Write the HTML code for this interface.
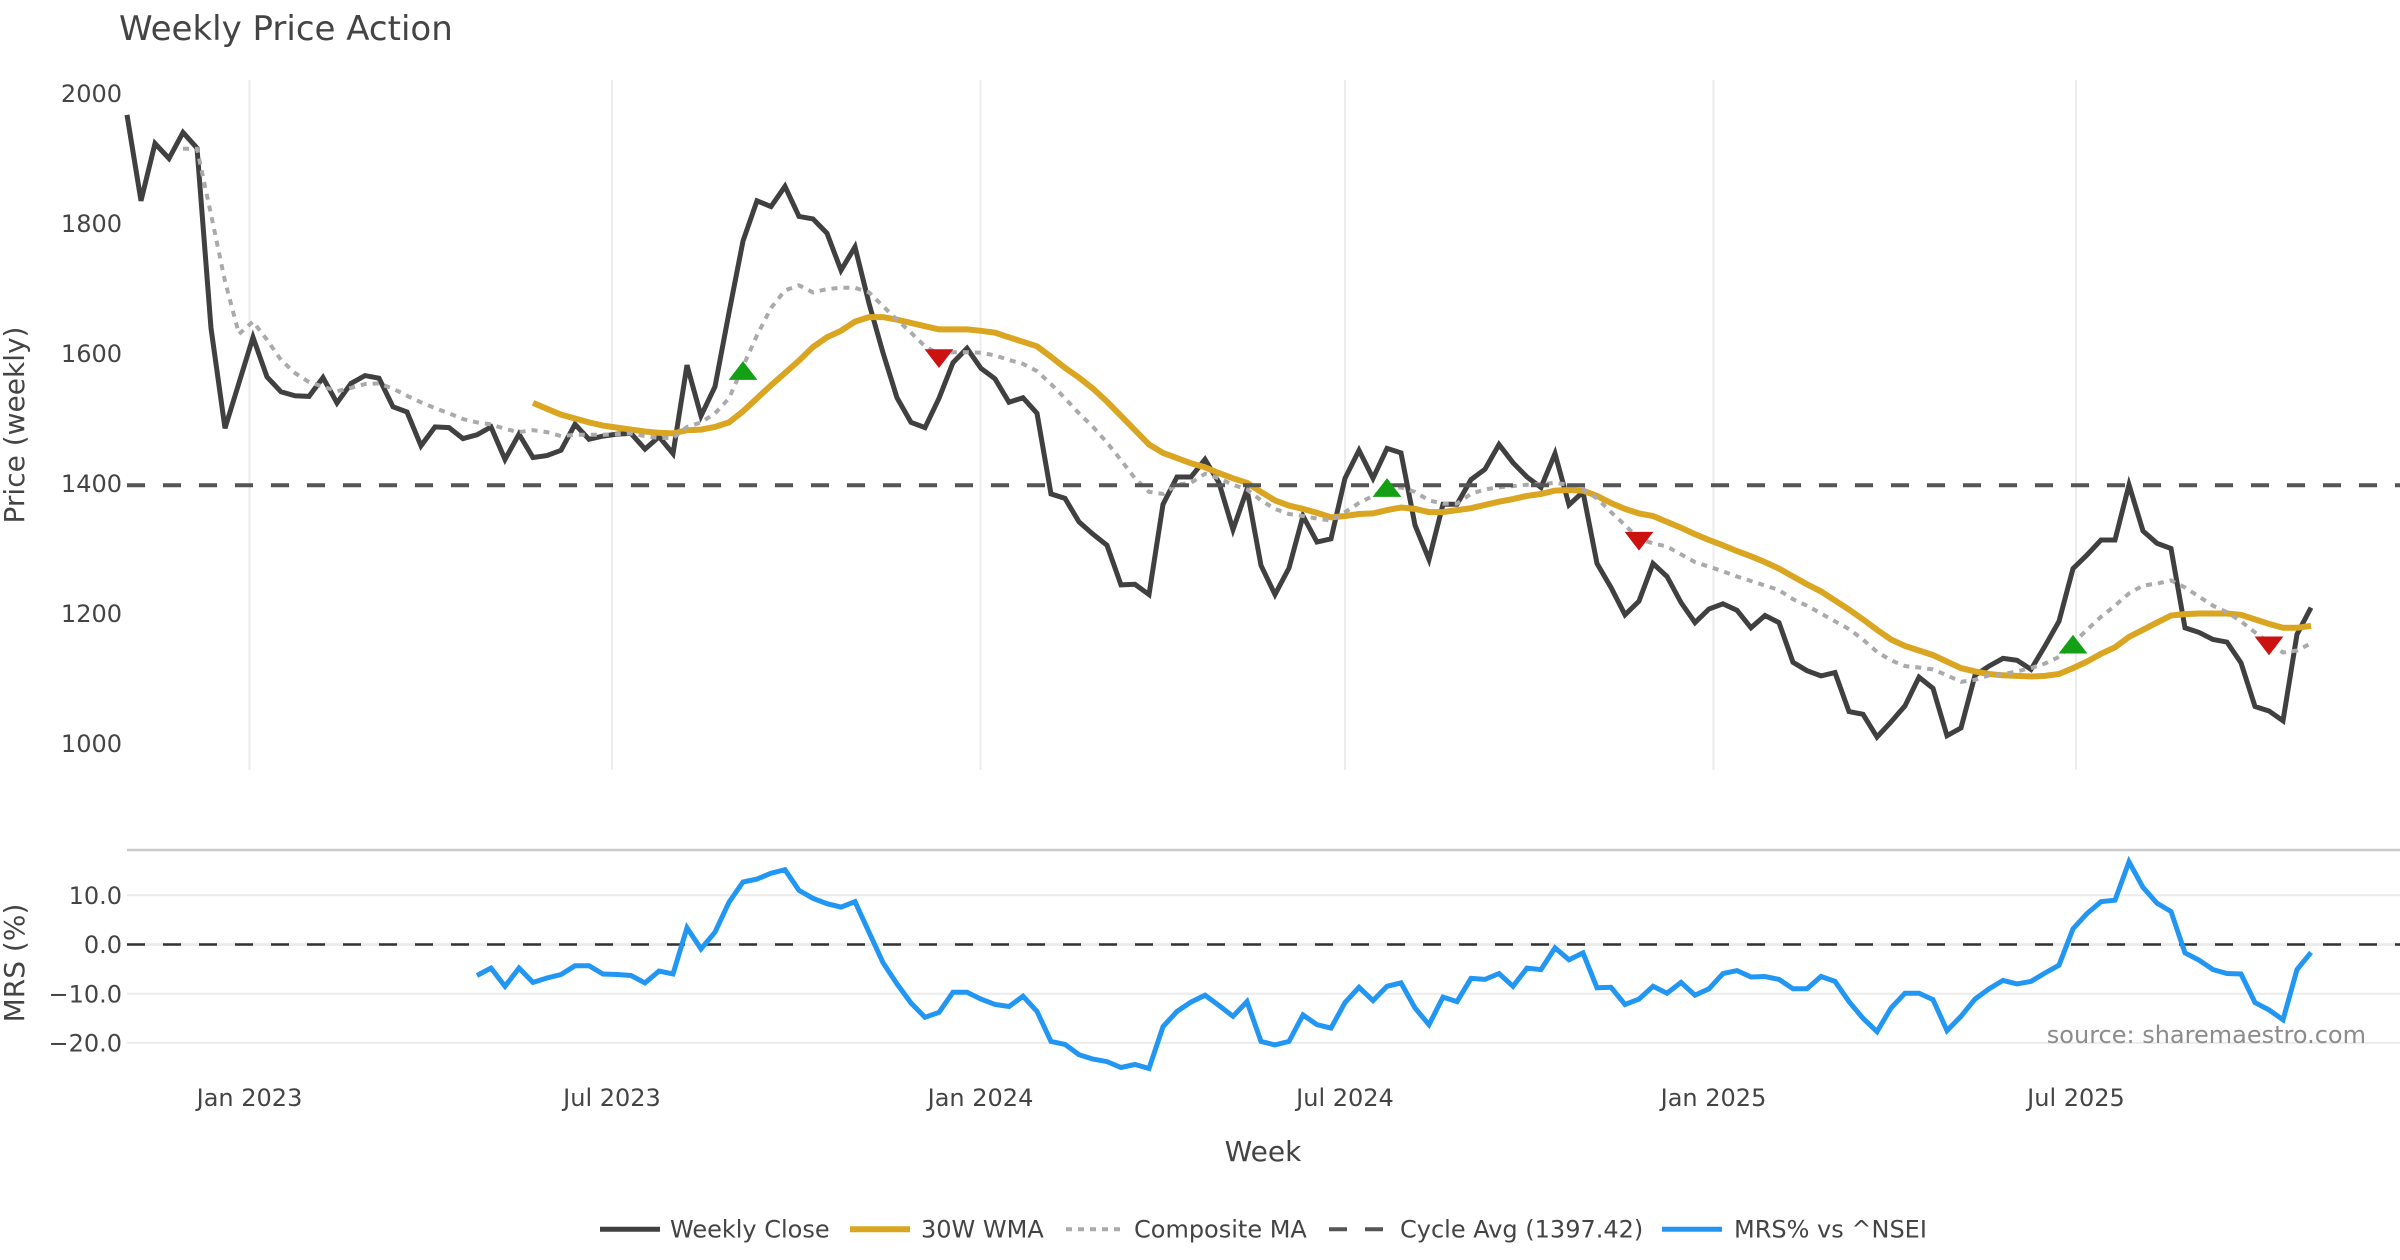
<!DOCTYPE html>
<html><head><meta charset="utf-8">
<style>
html,body{margin:0;padding:0;background:#fff;}
svg{display:block;}
text{font-family:"DejaVu Sans","Liberation Sans",sans-serif;}
</style></head>
<body>
<svg width="2400" height="1260" viewBox="0 0 2400 1260" xmlns="http://www.w3.org/2000/svg">
<rect width="2400" height="1260" fill="#fff"/>
<text x="119" y="40" font-size="34" fill="#444">Weekly Price Action</text>
<g stroke="#ececec" stroke-width="2">
<line x1="249.5" y1="80" x2="249.5" y2="770"/>
<line x1="612" y1="80" x2="612" y2="770"/>
<line x1="980.5" y1="80" x2="980.5" y2="770"/>
<line x1="1345" y1="80" x2="1345" y2="770"/>
<line x1="1713.5" y1="80" x2="1713.5" y2="770"/>
<line x1="2076" y1="80" x2="2076" y2="770"/>
</g>
<g stroke="#ececec" stroke-width="2">
<line x1="127" y1="895.3" x2="2400" y2="895.3"/>
<line x1="127" y1="944.5" x2="2400" y2="944.5" stroke-width="3"/>
<line x1="127" y1="993.7" x2="2400" y2="993.7"/>
<line x1="127" y1="1042.9" x2="2400" y2="1042.9"/>
</g>
<line x1="127" y1="850" x2="2400" y2="850" stroke="#cacaca" stroke-width="2.5"/>
<line x1="127" y1="944.5" x2="2400" y2="944.5" stroke="#333" stroke-width="2.5" stroke-dasharray="18,18"/>
<g font-size="24" fill="#444" text-anchor="end">
<text x="122" y="102.2">2000</text>
<text x="122" y="232.2">1800</text>
<text x="122" y="362.2">1600</text>
<text x="122" y="492.2">1400</text>
<text x="122" y="622.2">1200</text>
<text x="122" y="752.2">1000</text>
<text x="122" y="904">10.0</text>
<text x="122" y="953.2">0.0</text>
<text x="122" y="1002.4">−10.0</text>
<text x="122" y="1051.6">−20.0</text>
</g>
<g font-size="24" fill="#444" text-anchor="middle">
<text x="249.5" y="1106">Jan 2023</text>
<text x="612" y="1106">Jul 2023</text>
<text x="980.5" y="1106">Jan 2024</text>
<text x="1345" y="1106">Jul 2024</text>
<text x="1713.5" y="1106">Jan 2025</text>
<text x="2076" y="1106">Jul 2025</text>
</g>
<text x="1263" y="1161" font-size="28" fill="#444" text-anchor="middle">Week</text>
<text transform="translate(24,425) rotate(-90)" font-size="28" fill="#444" text-anchor="middle">Price (weekly)</text>
<text transform="translate(24,963) rotate(-90)" font-size="28" fill="#444" text-anchor="middle">MRS (%)</text>

<polyline id="pClose" fill="none" stroke="#404040" stroke-width="5"/>
<polyline id="pGold" fill="none" stroke="#DAA520" stroke-width="6"/>
<polyline id="pComp" fill="none" stroke="#aaaaaa" stroke-width="4" stroke-dasharray="6,6"/>
<line x1="127" y1="485.2" x2="2400" y2="485.2" stroke="#555" stroke-width="4" stroke-dasharray="18,18"/>
<polyline id="pMrs" fill="none" stroke="#2196F3" stroke-width="5"/>
<g id="markers"></g>

<text x="2366" y="1043" font-size="24" fill="#8c8c8c" text-anchor="end">source: sharemaestro.com</text>

<g font-size="24" fill="#444">
<line x1="600" y1="1229.3" x2="660" y2="1229.3" stroke="#404040" stroke-width="5"/>
<text x="670" y="1237.5">Weekly Close</text>
<line x1="850" y1="1229.3" x2="910" y2="1229.3" stroke="#DAA520" stroke-width="6"/>
<text x="921" y="1237.5">30W WMA</text>
<line x1="1066" y1="1229.3" x2="1122" y2="1229.3" stroke="#aaaaaa" stroke-width="4" stroke-dasharray="6,6"/>
<text x="1134" y="1237.5">Composite MA</text>
<line x1="1329" y1="1229.3" x2="1389" y2="1229.3" stroke="#555" stroke-width="4" stroke-dasharray="18,18"/>
<text x="1400" y="1237.5">Cycle Avg (1397.42)</text>
<line x1="1662" y1="1229.3" x2="1722" y2="1229.3" stroke="#2196F3" stroke-width="5"/>
<text x="1734" y="1237.5">MRS% vs ^NSEI</text>
</g>
</svg>
<script>
var close=[1967,1835,1923,1900,1940,1916,1639,1485,1555,1625,
1564,1541,1535,1534,1563,1524,1554,1566,1562,1518,
1510,1458,1487,1486,1469,1475,1487,1437,1476,1440,
1443,1451,1491,1468,1473,1476,1477,1453,1472,1446,
1582,1504,1549,1663,1773,1835,1826,1857,1811,1807,
1785,1728,1764,1677,1601,1532,1494,1486,1531,1586,
1608,1577,1561,1525,1532,1508,1384,1377,1341,1322,
1305,1244,1245,1229,1368,1410,1410,1437,1401,1329,
1391,1274,1229,1270,1350,1310,1315,1408,1451,1408,
1454,1447,1336,1283,1368,1368,1406,1422,1460,1432,
1410,1394,1446,1367,1387,1277,1240,1198,1219,1277,
1257,1217,1186,1207,1215,1205,1178,1197,1186,1125,
1112,1104,1109,1049,1045,1010,1033,1058,1102,1085,
1012,1024,1105,1119,1131,1128,1114,1150,1188,1269,
1290,1313,1313,1398,1327,1308,1300,1178,1171,1160,
1156,1124,1057,1050,1035,1168,1209];
var gold=[1524,1515,1506,1500,1494,1489,1486,1483,1480,1478,
1477,1482,1483,1487,1494,1511,1531,1551,1570,1589,
1610,1625,1635,1649,1656,1656,1652,1647,1642,1637,
1637,1637,1635,1632,1625,1618,1611,1595,1578,1563,
1546,1526,1504,1482,1460,1447,1439,1431,1425,1416,
1408,1401,1387,1374,1366,1361,1355,1348,1350,1353,
1354,1359,1363,1361,1356,1356,1359,1362,1367,1372,
1376,1381,1384,1389,1390,1389,1381,1370,1361,1354,
1350,1341,1332,1322,1313,1305,1296,1288,1279,1269,
1257,1245,1234,1220,1206,1191,1175,1160,1150,1143,
1136,1126,1116,1111,1107,1105,1104,1103,1104,1107,
1116,1126,1138,1148,1164,1175,1186,1197,1199,1200,
1200,1200,1198,1191,1184,1178,1178,1181];
var comp=[1915,1915,1814,1711,1630,1649,1621,1590,1570,1556,
1549,1542,1547,1553,1554,1546,1535,1525,1516,1508,
1499,1494,1491,1484,1479,1482,1479,1473,1475,1475,
1475,1476,1477,1473,1470,1470,1487,1494,1508,1531,
1580,1628,1670,1697,1705,1694,1699,1701,1701,1694,
1673,1652,1632,1611,1599,1602,1602,1601,1597,1590,
1584,1573,1553,1531,1508,1487,1463,1436,1408,1387,
1384,1398,1401,1415,1408,1398,1391,1374,1361,1353,
1350,1346,1343,1356,1370,1381,1391,1394,1387,1374,
1369,1369,1384,1391,1394,1396,1398,1399,1401,1398,
1391,1377,1356,1336,1315,1308,1303,1291,1279,1272,
1265,1257,1250,1243,1236,1222,1212,1200,1188,1176,
1160,1141,1128,1119,1117,1114,1105,1095,1098,1105,
1107,1111,1116,1123,1133,1154,1175,1195,1212,1231,
1243,1246,1251,1240,1226,1212,1202,1188,1171,1155,
1140,1143,1154];
var mrs=[-6.3,-4.8,-8.5,-4.8,-7.7,-6.8,-6.1,-4.3,-4.3,-6.0,
-6.1,-6.3,-7.8,-5.4,-6.0,3.4,-0.9,2.5,8.6,12.7,
13.3,14.5,15.2,11.0,9.4,8.3,7.6,8.7,2.5,-3.7,
-8.0,-11.9,-14.8,-13.8,-9.7,-9.7,-11.1,-12.2,-12.6,-10.5,
-13.6,-19.7,-20.3,-22.4,-23.3,-23.8,-25.0,-24.4,-25.2,-16.7,
-13.6,-11.7,-10.3,-12.4,-14.6,-11.6,-19.7,-20.4,-19.7,-14.3,
-16.3,-17.0,-11.8,-8.7,-11.4,-8.5,-7.8,-12.9,-16.3,-10.7,
-11.6,-6.9,-7.1,-5.9,-8.5,-4.8,-5.1,-0.7,-3.1,-1.7,
-8.8,-8.7,-12.2,-11.1,-8.5,-9.9,-7.7,-10.3,-9.0,-5.9,
-5.3,-6.6,-6.5,-7.1,-9.0,-9.0,-6.5,-7.5,-11.6,-15.0,
-17.7,-12.9,-9.9,-9.9,-11.2,-17.5,-14.6,-11.1,-9.0,-7.3,
-8.0,-7.5,-5.8,-4.2,3.2,6.3,8.7,9.0,16.8,11.6,
8.4,6.7,-1.7,-3.2,-5.1,-5.9,-6.0,-11.8,-13.3,-15.3,
-5.1,-1.6];
function X(k){return 127+14*k;}
function Y(v){return 743.5-(v-1000)*0.65;}
function M(m){return 944.5-m*4.92;}
function pts(a,s,f){var o=[];for(var i=0;i<a.length;i++){o.push(X(s+i).toFixed(1)+','+f(a[i]).toFixed(1));}return o.join(' ');}
document.getElementById('pClose').setAttribute('points',pts(close,0,Y));
document.getElementById('pGold').setAttribute('points',pts(gold,29,Y));
document.getElementById('pComp').setAttribute('points',pts(comp,4,Y));
document.getElementById('pMrs').setAttribute('points',pts(mrs,25,M));
var mk=[[44,1569,1],[90,1389,1],[139,1148,1],[58,1597,0],[108,1316,0],[153,1155,0]];
var g=document.getElementById('markers');var h='';
for(var i=0;i<mk.length;i++){var x=X(mk[i][0]),y=Y(mk[i][1]);
if(mk[i][2]){h+='<path d="M'+(x-14.4)+','+(y+6.25)+'H'+(x+14.4)+'L'+x+','+(y-12.5)+'Z" fill="#14a014"/>';}
else{h+='<path d="M'+(x-14.4)+','+(y-6.25)+'H'+(x+14.4)+'L'+x+','+(y+12.5)+'Z" fill="#cc1111"/>';}}
g.innerHTML=h;
</script>
</body></html>
